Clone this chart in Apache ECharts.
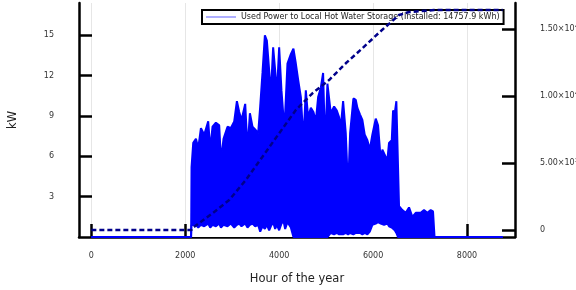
<!DOCTYPE html>
<html>
<head>
<meta charset="utf-8">
<script src="https://cdn.jsdelivr.net/npm/echarts@6/dist/echarts.min.js"></script>
<style>
  html, body { margin: 0; padding: 0; background: #fff; }
  #main { width: 576px; height: 290px; }
</style>
</head>
<body>
<div id="main"></div>
<script>
// power to hot water storage, upper and lower envelope of the hourly curve (kW)
var bandHours = [0, 2125, 2134, 2170, 2228, 2277, 2334, 2404, 2489, 2532, 2581, 2653, 2723, 2760, 2815, 2900, 2972, 3043,
  3100, 3149, 3198, 3277, 3326, 3377, 3432, 3489, 3553, 3596, 3645, 3696, 3738, 3787, 3823, 3872, 3915, 3951, 4000,
  4049, 4092, 4128, 4177, 4249, 4304, 4355, 4404, 4462, 4517, 4568, 4617, 4675, 4730, 4781, 4830, 4887, 4936, 4979,
  5028, 5100, 5170, 5228, 5277, 5313, 5362, 5419, 5468, 5511, 5581, 5632, 5666, 5723, 5772, 5823, 5879, 5930, 5985,
  6057, 6106, 6164, 6198, 6234, 6304, 6340, 6398, 6426, 6462, 6496, 6532, 6553, 6624, 6696, 6766, 6837, 6909, 7015,
  7085, 7156, 7228, 7277, 7309, 8760]
var bandHigh = [0, 0, 5.2, 7.0, 7.3, 6.6, 8.1, 7.6, 8.6, 6.5, 8.2, 8.5, 8.3, 5.7, 7.3, 8.2, 8.1, 8.6,
  10.1, 9.3, 8.7, 9.9, 6.5, 9.2, 8.2, 8.0, 7.7, 9.7, 12.2, 15.0, 14.6, 12.4, 10.6, 14.1, 12.4, 10.6, 14.1,
  10.9, 8.9, 9.2, 12.9, 13.6, 14.0, 12.9, 11.7, 10.4, 7.2, 10.9, 8.9, 9.6, 9.3, 8.6, 10.4, 11.1, 12.2, 6.7,
  11.4, 9.2, 9.7, 9.4, 8.9, 8.2, 10.1, 7.7, 3.5, 7.7, 10.3, 10.2, 9.6, 9.1, 8.7, 7.6, 7.2, 6.5, 7.6,
  8.8, 8.3, 5.7, 6.5, 6.5, 5.7, 7.0, 7.2, 9.4, 9.2, 10.1, 10.1, 2.3, 2.0, 1.8, 2.2, 1.5, 1.8, 1.8,
  2.0, 1.8, 2.0, 1.9, 0, 0]
var bandLow = [0, 0, 0.9, 0.8, 0.9, 0.7, 0.9, 0.8, 1.0, 0.7, 0.9, 0.8, 1.0, 0.7, 0.9, 0.8, 1.0, 0.7,
  0.9, 1.0, 0.8, 1.0, 0.7, 0.9, 1.0, 0.8, 0.9, 0.4, 0.8, 0.6, 0.9, 0.5, 0.8, 1.1, 0.6, 0.9, 0.5,
  1.0, 1.2, 0.6, 1.1, 0.7, 0, 0, 0, 0, 0, 0, 0, 0, 0, 0, 0, 0, 0, 0,
  0, 0.3, 0.2, 0.3, 0.2, 0.3, 0.2, 0.3, 0.2, 0.3, 0.2, 0.3, 0.2, 0.3, 0.2, 0.3, 0.2, 0.4, 0.9,
  1.0, 1.1, 1.0, 1.1, 0.9, 1.0, 0.8, 0.7, 0.6, 0.5, 0.3, 0, 0, 0, 0, 0, 0, 0, 0,
  0, 0, 0, 0, 0, 0]

// cumulative energy (kWh), right axis
var cumHours = [0, 2130, 2155, 2581, 2936, 3291, 3645, 4000, 4355, 4709, 5064, 5419, 5772, 6128, 6553, 6766, 7191, 7300, 8760]
var cumValues = [0, 0, 150, 1250, 2240, 3740, 5480, 7230, 8970, 10220, 11210, 12460, 13580, 14750, 16070, 16290, 16400, 16440, 16440]

var xTicks = [0, 2000, 4000, 6000, 8000]
var leftTicks = [3, 6, 9, 12, 15]
var rightTicks = [0, 5000, 10000, 15000]

var seriesName = 'Used Power to Local Hot Water Storage (Installed: 14757.9 kWh)'
var font = 'DejaVu Sans'

var highData = bandHours.map(function (h, i) { return [h, bandHigh[i]] })
var lowData = bandHours.map(function (h, i) { return [h, bandLow[i]] })
var cumData = cumHours.map(function (h, i) { return [h, cumValues[i]] })

function sci(v) {
  if (v === 0) return '0'
  var e = Math.floor(Math.log10(v))
  return (v / Math.pow(10, e)).toFixed(2) + '×10{sup|' + e + '}'
}

var axisLine = { show: true, onZero: false, lineStyle: { color: '#000', width: 2.5 } }
var axisTick = function (vals) {
  return { show: true, inside: true, length: 13, customValues: vals, lineStyle: { color: '#000', width: 2.5 } }
}

var myChart = echarts.init(document.getElementById('main'))
var option = {
  animation: false,
  textStyle: { fontFamily: font },
  grid: { left: 79, right: 61, top: 3, bottom: 53, outerBoundsMode: 'none', containLabel: false },
  legend: {
    data: [{ name: seriesName, icon: 'rect', itemStyle: { color: '#7a7aff' } }],
    left: 202, top: 10,
    itemWidth: 30, itemHeight: 1.2, itemGap: 4,
    padding: [3, 4, 3, 4],
    backgroundColor: '#fff',
    borderColor: '#000', borderWidth: 2, borderRadius: 0,
    textStyle: { fontSize: 8, color: '#222', fontFamily: font }
  },
  xAxis: {
    type: 'value',
    min: -263, max: 9023,
    name: 'Hour of the year', nameLocation: 'middle', nameGap: 36,
    nameTextStyle: { fontSize: 11.5, color: '#222', fontFamily: font },
    axisLine: axisLine,
    axisTick: axisTick(xTicks),
    axisLabel: {
      customValues: xTicks, fontSize: 8, color: '#333', margin: 15, fontFamily: font,
      formatter: function (v) { return String(v) }
    },
    splitLine: { show: true, lineStyle: { color: '#e6e6e6', width: 1 } }
  },
  yAxis: [{
    type: 'value',
    min: 0, max: 17.4,
    name: 'kW', nameLocation: 'middle', nameGap: 60, nameRotate: 90,
    nameTextStyle: { fontSize: 11.5, color: '#222', fontFamily: font },
    axisLine: axisLine,
    axisTick: axisTick(leftTicks),
    axisLabel: { customValues: leftTicks, fontSize: 8, color: '#333', margin: 25, fontFamily: font },
    splitLine: { show: false }
  }, {
    type: 'value',
    position: 'right',
    min: -523, max: 16966,
    axisLine: axisLine,
    axisTick: axisTick(rightTicks),
    axisLabel: {
      customValues: rightTicks, fontSize: 8, color: '#333', margin: 25, fontFamily: font,
      formatter: sci,
      rich: { sup: { fontSize: 5.5, color: '#333', verticalAlign: 'top', padding: [0, 0, 5, 0], fontFamily: font } }
    },
    splitLine: { show: false }
  }],
  series: [
    {
      // band top, filled down to the axis
      name: seriesName,
      type: 'line',
      data: highData,
      showSymbol: false,
      clip: false,
      itemStyle: { color: '#0000ff' },
      lineStyle: { color: '#0000ff', width: 2 },
      areaStyle: { color: '#0000ff', opacity: 1, origin: 'start' },
      z: 3
    },
    {
      // band bottom: white gap between the axis and the daily minimum
      name: 'low',
      type: 'line',
      data: lowData,
      showSymbol: false,
      clip: false,
      lineStyle: { color: '#0000ff', width: 2 },
      areaStyle: { color: '#ffffff', opacity: 1, origin: 'start' },
      z: 4
    },
    {
      name: 'cumulative',
      type: 'line',
      yAxisIndex: 1,
      data: cumData,
      showSymbol: false,
      lineStyle: { color: '#00008b', width: 2.5, type: [5, 3] },
      z: 5
    }
  ]
}
myChart.setOption(option)
</script>
</body>
</html>
